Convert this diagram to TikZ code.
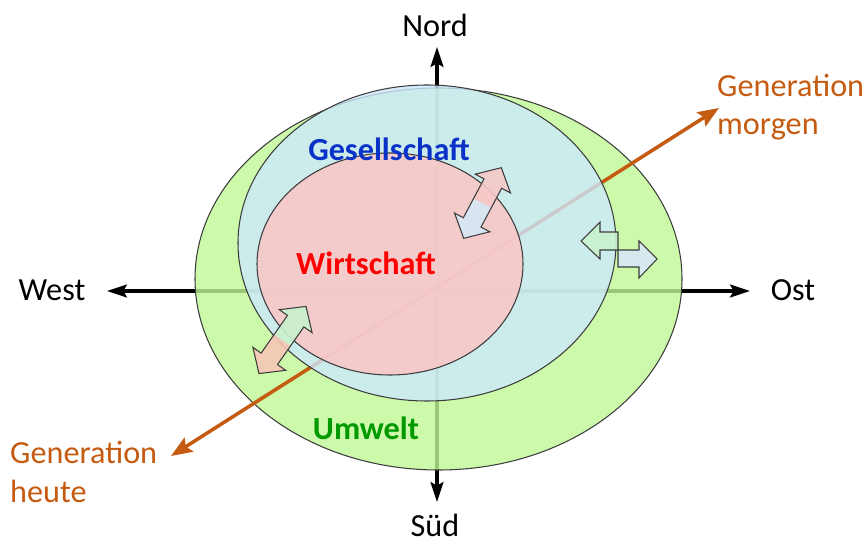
\documentclass[tikz,border=0pt]{standalone}
\usepackage{fontspec}
\setmainfont{Carlito}
\usetikzlibrary{arrows.meta}
\definecolor{gfill}{RGB}{191,249,149}
\definecolor{bfill}{RGB}{205,232,252}
\definecolor{pfill}{RGB}{254,196,195}
\definecolor{edgec}{RGB}{60,60,60}
\definecolor{orangec}{RGB}{197,90,17}
\definecolor{bluetext}{RGB}{10,50,200}
\definecolor{redtext}{RGB}{255,0,0}
\definecolor{greentext}{RGB}{0,153,0}
\definecolor{apink}{RGB}{247,200,200}
\definecolor{ablue}{RGB}{214,232,246}
\definecolor{agreen}{RGB}{200,242,205}
\definecolor{asalmon}{RGB}{246,198,182}
\newcommand\blockarrowdraw[5]{%
 \begin{scope}[shift={#1}, rotate=#2]
  \fill[#4, fill opacity=0.9] (-#3/2,0) -- (-#3/2+18,20) -- (-#3/2+18,10) -- (0,10) -- (0,-10) -- (-#3/2+18,-10) -- (-#3/2+18,-20) -- cycle;
  \fill[#5, fill opacity=0.9] (#3/2,0) -- (#3/2-18,20) -- (#3/2-18,10) -- (0,10) -- (0,-10) -- (#3/2-18,-10) -- (#3/2-18,-20) -- cycle;
  \draw[blockedge] (-#3/2,0) -- (-#3/2+18,20) -- (-#3/2+18,10) -- (#3/2-18,10) -- (#3/2-18,20) -- (#3/2,0) -- (#3/2-18,-20) -- (#3/2-18,-10) -- (-#3/2+18,-10) -- (-#3/2+18,-20) -- cycle;
 \end{scope}}
\begin{document}
\begin{tikzpicture}[x=0.03cm,y=-0.03cm,
  lbl/.style={font=\fontsize{27.5}{33}\selectfont, inner sep=0pt},
  blbl/.style={font=\fontsize{27.5}{33}\selectfont\bfseries, inner sep=0pt},
  axisarrow/.style={line width=2.6pt, {Stealth[length=17pt,width=11pt,inset=3pt]}-{Stealth[length=17pt,width=11pt,inset=3pt]}},
  genarrow/.style={line width=3pt, orangec, {Stealth[length=18pt,width=14pt,inset=3pt]}-{Stealth[length=18pt,width=14pt,inset=3pt]}},
  ell/.style={draw=edgec, line width=0.9pt, fill opacity=0.8},
  blockedge/.style={draw=edgec, line width=0.9pt, line join=miter}]
\useasboundingbox (0,0) rectangle (868,545);
% axis end points
\coordinate (ntip) at (437,47);
\coordinate (stip) at (437,502);
\coordinate (wtip) at (107,291);
\coordinate (otip) at (750,291);
\coordinate (ghtip) at (171,456);
\coordinate (gmtip) at (719,108);
% axes
\draw[axisarrow] (wtip) -- (otip);
\draw[axisarrow] (ntip) -- (stip);
% labels of axes
\node[lbl] (nord) at (435,25) {Nord};
\node[lbl] (sued) at (435,525) {Süd};
\node[lbl] (west) at (52,290) {West};
\node[lbl] (ost) at (793,290) {Ost};
% environment ellipse
\path[ell, fill=gfill] (438.5,279) ellipse [x radius=243.5, y radius=191];
% generations arrow
\draw[genarrow] (ghtip) -- (gmtip);
% society and economy
\path[ell, fill=bfill] (427,243) ellipse [x radius=189, y radius=158];
\path[ell, fill=pfill] (390,264) ellipse [x radius=133, y radius=111];
% block arrows
\blockarrowdraw{(482.5,203)}{62}{80}{ablue}{apink}
\blockarrowdraw{(282.5,340)}{55}{82}{asalmon}{agreen}
\fill[agreen, fill opacity=0.9] (581,241) -- (600,222) -- (600,232) -- (618,232) -- (618,250) -- (600,250) -- (600,259) -- cycle;
\fill[ablue, fill opacity=0.9] (618,250) -- (639,250) -- (639,241) -- (657,259) -- (639,278) -- (639,267) -- (618,267) -- cycle;
\draw[blockedge] (581,241) -- (600,222) -- (600,232) -- (618,232) -- (618,250) -- (639,250) -- (639,241) -- (657,259) -- (639,278) -- (639,267) -- (618,267) -- (618,250) -- (600,250) -- (600,259) -- cycle;
% texts
\node[blbl, text=bluetext] (ges) at (389,149) {Gesellschaft};
\node[blbl, text=redtext] (wir) at (366,263) {Wirtschaft};
\node[blbl, text=greentext] (umw) at (366,428) {Umwelt};
\node[lbl, text=orangec, anchor=west, align=left] (gm) at (717,107) {Generation\\morgen};
\node[lbl, text=orangec, anchor=west, align=left] (gh) at (10,472) {Generation\\heute};
\end{tikzpicture}
\end{document}
